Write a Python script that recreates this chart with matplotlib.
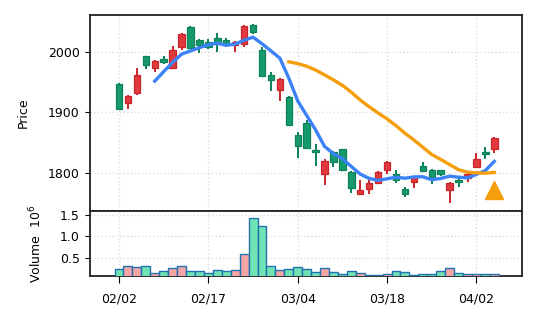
import numpy as np
import pandas as pd
import matplotlib
matplotlib.use("Agg")
import matplotlib.pyplot as plt

# daily OHLC (index 0 = 02/02), red = close above open, green = close below open
opens = [1947.1, 1916.3, 1932.2, 1993.4, 1974.1, 1989.0, 1974.1, 2008.8, 2041.9, 2019.8,
         2016.5, 2023.7, 2020.4, 2011.6, 2012.7, 2044.6, 2003.9, 1962.5, 1936.6, 1926.2,
         1862.8, 1883.3, 1837.8, 1798.9, 1835.0, 1838.9, 1801.7, 1764.4, 1773.3, 1783.3,
         1805.6, 1797.8, 1773.9, 1784.4, 1812.2, 1805.6, 1805.0, 1771.1, 1787.8, 1792.2,
         1810.0, 1833.9, 1839.4]
highs = [1948.0, 1929.0, 1974.1, 1994.0, 1986.2, 1993.9, 2010.5, 2031.4, 2042.4, 2020.9,
         2021.5, 2032.0, 2023.7, 2018.2, 2044.6, 2046.3, 2008.8, 1967.5, 1957.6, 1927.3,
         1868.3, 1886.7, 1847.8, 1822.2, 1836.0, 1840.0, 1802.8, 1787.8, 1787.8, 1802.8,
         1819.4, 1804.4, 1776.7, 1795.6, 1817.8, 1807.2, 1805.6, 1784.4, 1794.4, 1800.0,
         1832.2, 1842.2, 1859.4]
lows = [1904.0, 1905.8, 1928.9, 1971.9, 1966.4, 1979.6, 1974.0, 2003.3, 2004.4, 1998.9,
        2005.0, 2000.6, 2007.7, 2000.6, 2008.3, 2029.2, 1959.2, 1935.5, 1919.0, 1877.7,
        1824.2, 1839.4, 1812.2, 1780.5, 1810.0, 1803.3, 1766.7, 1763.9, 1765.5, 1781.1,
        1798.9, 1783.3, 1760.0, 1775.6, 1802.2, 1781.1, 1794.4, 1750.0, 1776.7, 1785.0,
        1808.3, 1822.8, 1832.2]
closes = [1905.2, 1927.3, 1962.0, 1979.1, 1985.1, 1983.5, 2003.3, 2030.3, 2006.1, 2011.6,
          2008.3, 2014.9, 2013.8, 2016.0, 2043.5, 2033.6, 1960.9, 1954.3, 1955.9, 1878.8,
          1845.2, 1840.6, 1835.0, 1819.4, 1818.3, 1804.4, 1775.6, 1772.2, 1783.9, 1801.7,
          1818.3, 1787.8, 1764.4, 1794.4, 1803.3, 1793.3, 1798.9, 1783.3, 1785.6, 1797.8,
          1822.2, 1831.1, 1858.3]
# volume in millions
volumes = [0.246, 0.294, 0.270, 0.294, 0.143, 0.198, 0.254, 0.294, 0.198, 0.198,
           0.151, 0.222, 0.198, 0.222, 0.579, 1.437, 1.238, 0.294, 0.222, 0.246,
           0.270, 0.246, 0.175, 0.254, 0.175, 0.127, 0.198, 0.151, 0.095, 0.095,
           0.127, 0.198, 0.175, 0.095, 0.127, 0.127, 0.198, 0.254, 0.151, 0.111,
           0.111, 0.111, 0.111]
signal_idx = [42]
signal_price = [1772.0]

tick_pos = [0, 10, 20, 30, 40]
tick_labels = ["02/02", "02/17", "03/04", "03/18", "04/02"]

df = pd.DataFrame({"Open": opens, "High": highs, "Low": lows, "Close": closes, "Volume": volumes})
x = np.arange(len(df))
up = df["Close"] >= df["Open"]
mav5 = df["Close"].rolling(5).mean()
mav20 = df["Close"].rolling(20).mean()

fig = plt.figure(figsize=(5.37, 3.22), dpi=100)
ax = fig.add_axes([0.1667, 0.3447, 0.8054, 0.6087])
axv = fig.add_axes([0.1667, 0.1419, 0.8054, 0.2028], sharex=ax)

grid_kw = dict(color="#dddddd", linestyle=":", linewidth=1.0)
for a in (ax, axv):
    a.grid(True, **grid_kw)
    a.set_axisbelow(True)
    for s in a.spines.values():
        s.set_linewidth(1.3)
        s.set_color("#222222")

# candles
red_face, red_edge = "#e0393e", "#c8262b"
green_face, green_edge = "#169a6c", "#0c8259"
face = np.where(up, red_face, green_face)
edge = np.where(up, red_edge, green_edge)
ax.vlines(x, df["Low"], df["High"], colors=edge, linewidth=1.4, zorder=2)
body_lo = np.minimum(df["Open"], df["Close"])
body_h = np.maximum(np.abs(df["Close"] - df["Open"]), 0.6)
ax.bar(x, body_h, bottom=body_lo, width=0.72, color=face, edgecolor=edge, linewidth=0.9, zorder=3)

ax.plot(x, mav5, color="#3b82f6", linewidth=2.4, zorder=4)
ax.plot(x, mav20, color="#f59e0b", linewidth=2.4, zorder=4)
ax.plot(signal_idx, signal_price, marker="^", linestyle="none", color="#f59e0b",
        markersize=13, zorder=5)

ax.set_ylim(1737, 2061)
ax.set_yticks([1800, 1900, 2000])
ax.set_ylabel("Price", fontsize=9, labelpad=13)
ax.tick_params(axis="y", labelsize=9)
ax.tick_params(axis="x", bottom=False, labelbottom=False)

# volume
vcol = np.where(up, "#f7a6a6", "#70e3b4")
axv.bar(x, df["Volume"], width=1.0, color=vcol, edgecolor="#2271b3", linewidth=1.0, zorder=3)
axv.set_ylim(0.063, 1.594)
axv.set_yticks([0.5, 1.0, 1.5])
axv.set_ylabel("Volume  $10^{6}$", fontsize=9, labelpad=11)
axv.tick_params(axis="y", labelsize=9)
axv.tick_params(axis="x", labelsize=9, length=5, pad=7)
axv.set_xticks(tick_pos)
axv.set_xticklabels(tick_labels)
axv.set_xlim(-3.3, 45.1)

fig.savefig("out.png", dpi=100)
